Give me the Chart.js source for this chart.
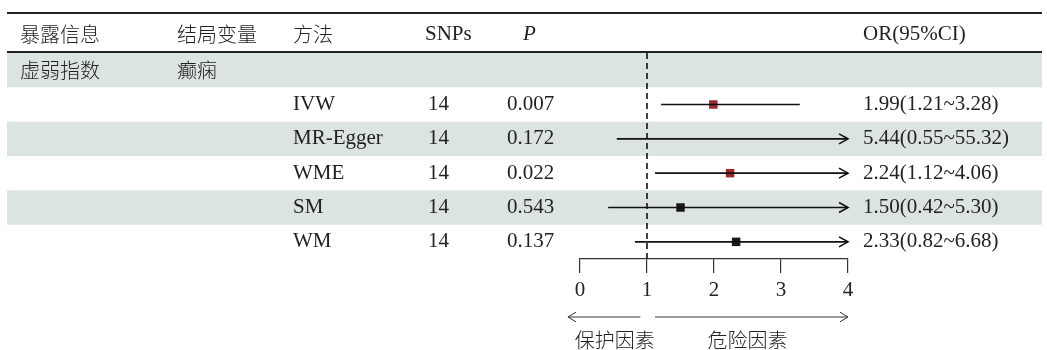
<!DOCTYPE html>
<html>
<head>
<meta charset="utf-8">
<script src="https://cdn.jsdelivr.net/npm/chart.js"></script>
<style>
body { margin: 0; background: #fff; }
#wrap { width: 1047px; height: 350px; }
</style>
</head>
<body>
<div id="wrap"><canvas id="myChart" width="1047" height="350"></canvas></div>
<script>
// table data
var headers = ['暴露信息', '结局变量', '方法', 'SNPs', 'P', 'OR(95%CI)'];
var exposure = '虚弱指数';
var outcome = '癫痫';
var methods = ['IVW', 'MR-Egger', 'WME', 'SM', 'WM'];
var snps = [14, 14, 14, 14, 14];
var pvals = ['0.007', '0.172', '0.022', '0.543', '0.137'];
var orVals = [1.99, 5.44, 2.24, 1.50, 2.33];
var lower = [1.21, 0.55, 1.12, 0.42, 0.82];
var upper = [3.28, 55.32, 4.06, 5.30, 6.68];
var pointColors = ['#9b2a2e', '#1a1a1a', '#9b2a2e', '#1a1a1a', '#1a1a1a'];
var xTicks = [0, 1, 2, 3, 4];
var sideLabels = ['保护因素', '危险因素'];

var latinFont = '21px "Liberation Serif"';
var cjkFont = '300 20px "Noto Sans CJK SC"';
var textColor = '#222';
var bandColor = '#dce4e1';
var headerX = [20, 177, 293, 425, 523, 863];
var cellX = [20, 177, 293, 428, 507, 863];
var tableLeft = 7, tableRight = 1042;

function orText(i) {
    return orVals[i].toFixed(2) + '(' + lower[i].toFixed(2) + '~' + upper[i].toFixed(2) + ')';
}

function pickFont(s) {
    return /[\u4e00-\u9fff]/.test(s) ? cjkFont : latinFont;
}

function makeDatasets() {
    var sets = [];
    // null line at OR = 1
    sets.push({
        type: 'line',
        data: [{x: 1, y: -0.5}, {x: 1, y: methods.length + 0.5}],
        borderColor: '#111',
        borderWidth: 1.6,
        borderDash: [6, 4],
        pointRadius: 0
    });
    for (var i = 0; i < methods.length; i++) {
        sets.push({
            type: 'line',
            data: [{x: lower[i], y: i + 1}, {x: upper[i], y: i + 1}],
            borderColor: '#111',
            borderWidth: 1.6,
            pointRadius: 0
        });
    }
    sets.push({
        type: 'scatter',
        data: orVals.map(function(v, i) { return {x: v, y: i + 1}; }),
        pointStyle: 'rect',
        pointRadius: 6,
        pointBackgroundColor: pointColors,
        pointBorderColor: pointColors,
        pointBorderWidth: 0
    });
    return sets;
}

function arrow(ctx, x1, y, x2, size) {
    var dir = x2 > x1 ? 1 : -1;
    ctx.beginPath();
    ctx.moveTo(x1, y);
    ctx.lineTo(x2, y);
    ctx.moveTo(x2 - dir * size, y - size * 0.6);
    ctx.lineTo(x2, y);
    ctx.lineTo(x2 - dir * size, y + size * 0.6);
    ctx.stroke();
}

function text(ctx, s, x, y) {
    ctx.font = pickFont(s);
    ctx.fillText(s, x, y);
}

var forestPlugin = {
    id: 'forest',
    beforeDatasetsDraw: function(chart) {
        var ctx = chart.ctx, y = chart.scales.y, area = chart.chartArea;
        ctx.save();
        ctx.fillStyle = bandColor;
        for (var r = 0; r <= methods.length; r += 2) {
            var t = y.getPixelForValue(r - 0.5), b = y.getPixelForValue(r + 0.5);
            ctx.fillRect(tableLeft, t, tableRight - tableLeft, b - t);
        }
        ctx.strokeStyle = '#222';
        ctx.lineWidth = 2;
        ctx.beginPath();
        ctx.moveTo(tableLeft, 13); ctx.lineTo(tableRight, 13);
        ctx.moveTo(tableLeft, area.top - 1); ctx.lineTo(tableRight, area.top - 1);
        ctx.stroke();
        ctx.restore();
    },
    afterDatasetsDraw: function(chart) {
        var ctx = chart.ctx, x = chart.scales.x, y = chart.scales.y, area = chart.chartArea;
        ctx.save();
        ctx.strokeStyle = '#111';
        ctx.lineWidth = 1.6;
        // arrow heads where CI runs past the axis
        for (var i = 0; i < methods.length; i++) {
            if (upper[i] > x.max) {
                var tip = x.getPixelForValue(x.max), yy = y.getPixelForValue(i + 1);
                ctx.beginPath();
                ctx.moveTo(tip - 9, yy - 5);
                ctx.lineTo(tip, yy);
                ctx.lineTo(tip - 9, yy + 5);
                ctx.stroke();
            }
        }
        // text
        ctx.fillStyle = textColor;
        ctx.textBaseline = 'middle';
        ctx.textAlign = 'left';
        for (var h = 0; h < headers.length; h++) {
            if (headers[h] === 'P') {
                ctx.font = 'italic ' + latinFont;
                ctx.fillText(headers[h], headerX[h], 34);
            } else {
                text(ctx, headers[h], headerX[h], 34);
            }
        }
        var y0 = y.getPixelForValue(0);
        text(ctx, exposure, cellX[0], y0);
        text(ctx, outcome, cellX[1], y0);
        for (var j = 0; j < methods.length; j++) {
            var yr = y.getPixelForValue(j + 1);
            text(ctx, methods[j], cellX[2], yr);
            text(ctx, String(snps[j]), cellX[3], yr);
            text(ctx, pvals[j], cellX[4], yr);
            text(ctx, orText(j), cellX[5], yr);
        }
        // protective / risk arrows under the axis
        var ay = area.bottom + 58;
        ctx.lineWidth = 1;
        ctx.strokeStyle = '#333';
        arrow(ctx, x.getPixelForValue(0.9), ay, x.getPixelForValue(-0.18), 8);
        arrow(ctx, x.getPixelForValue(1.12), ay, x.getPixelForValue(4), 8);
        ctx.textAlign = 'center';
        text(ctx, sideLabels[0], x.getPixelForValue(0.52), ay + 23);
        text(ctx, sideLabels[1], x.getPixelForValue(2.5), ay + 23);
        ctx.restore();
    }
};

var ctx = document.getElementById('myChart').getContext('2d');
var chart = new Chart(ctx, {
    type: 'scatter',
    data: { datasets: makeDatasets() },
    options: {
        responsive: false,
        animation: false,
        layout: { padding: { left: 580, right: 199, top: 53, bottom: 46 } },
        plugins: { legend: { display: false }, tooltip: { enabled: false } },
        scales: {
            x: {
                type: 'linear',
                min: xTicks[0],
                max: xTicks[xTicks.length - 1],
                afterBuildTicks: function(s) { s.ticks = xTicks.map(function(v) { return {value: v}; }); },
                afterFit: function(s) { s.height = 45; },
                grid: { drawOnChartArea: false, drawTicks: true, tickLength: 14, color: '#333', lineWidth: 1.2 },
                border: { display: true, color: '#333', width: 1.2 },
                ticks: { color: textColor, padding: 5, font: { family: '"Liberation Serif"', size: 21 } }
            },
            y: {
                type: 'linear',
                display: false,
                reverse: true,
                min: -0.5,
                max: methods.length + 0.5
            }
        }
    },
    plugins: [forestPlugin]
});
</script>
</body>
</html>
